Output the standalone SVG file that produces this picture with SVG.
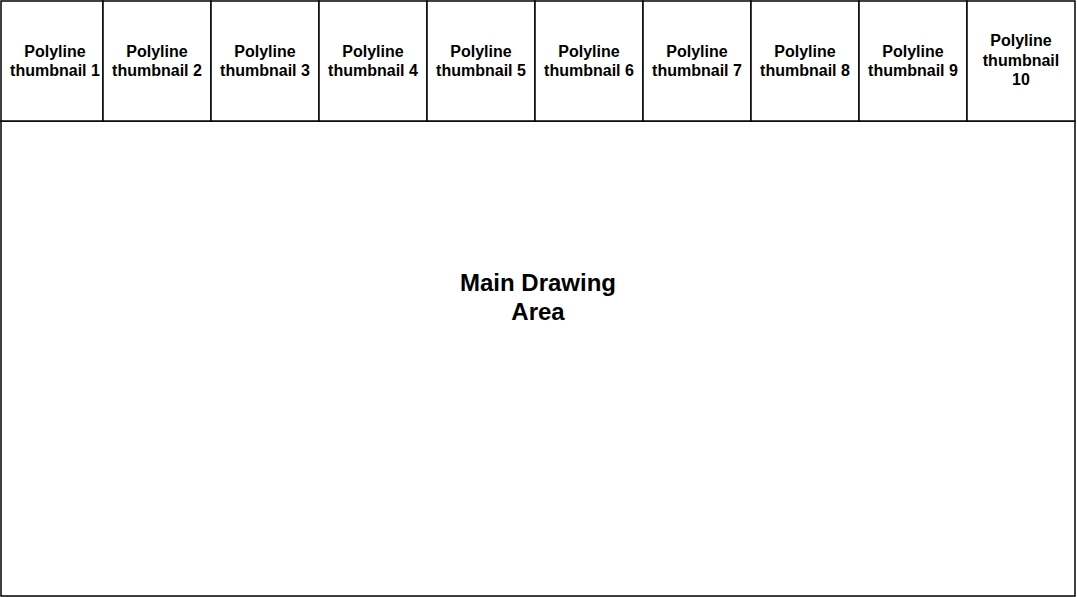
<svg xmlns="http://www.w3.org/2000/svg" width="1077" height="597" viewBox="0 0 1077 597">
<style>
.box{fill:#fff;stroke:#000;stroke-width:1.5}
.t{font-family:"Liberation Sans",Arial,sans-serif;font-weight:bold;font-size:16px;text-anchor:middle;fill:#000}
.m{font-family:"Liberation Sans",Arial,sans-serif;font-weight:bold;font-size:24px;text-anchor:middle;fill:#000}
</style>
<rect width="1077" height="597" fill="#fff"/>
<g id="main"><rect class="box" x="1" y="121" width="1074" height="475"/><text class="m" x="538" y="291">Main Drawing</text><text class="m" x="538" y="320">Area</text></g>
<g id="thumb1"><rect class="box" x="1" y="1" width="102" height="120"/><text class="t" x="55" y="57">Polyline</text><text class="t" x="55" y="76">thumbnail 1</text></g>
<g id="thumb2"><rect class="box" x="103" y="1" width="108" height="120"/><text class="t" x="157" y="57">Polyline</text><text class="t" x="157" y="76">thumbnail 2</text></g>
<g id="thumb3"><rect class="box" x="211" y="1" width="108" height="120"/><text class="t" x="265" y="57">Polyline</text><text class="t" x="265" y="76">thumbnail 3</text></g>
<g id="thumb4"><rect class="box" x="319" y="1" width="108" height="120"/><text class="t" x="373" y="57">Polyline</text><text class="t" x="373" y="76">thumbnail 4</text></g>
<g id="thumb5"><rect class="box" x="427" y="1" width="108" height="120"/><text class="t" x="481" y="57">Polyline</text><text class="t" x="481" y="76">thumbnail 5</text></g>
<g id="thumb6"><rect class="box" x="535" y="1" width="108" height="120"/><text class="t" x="589" y="57">Polyline</text><text class="t" x="589" y="76">thumbnail 6</text></g>
<g id="thumb7"><rect class="box" x="643" y="1" width="108" height="120"/><text class="t" x="697" y="57">Polyline</text><text class="t" x="697" y="76">thumbnail 7</text></g>
<g id="thumb8"><rect class="box" x="751" y="1" width="108" height="120"/><text class="t" x="805" y="57">Polyline</text><text class="t" x="805" y="76">thumbnail 8</text></g>
<g id="thumb9"><rect class="box" x="859" y="1" width="108" height="120"/><text class="t" x="913" y="57">Polyline</text><text class="t" x="913" y="76">thumbnail 9</text></g>
<g id="thumb10"><rect class="box" x="967" y="1" width="108" height="120"/><text class="t" x="1021" y="46">Polyline</text><text class="t" x="1021" y="66">thumbnail</text><text class="t" x="1021" y="85">10</text></g>
<g id="connectors"/>
</svg>
